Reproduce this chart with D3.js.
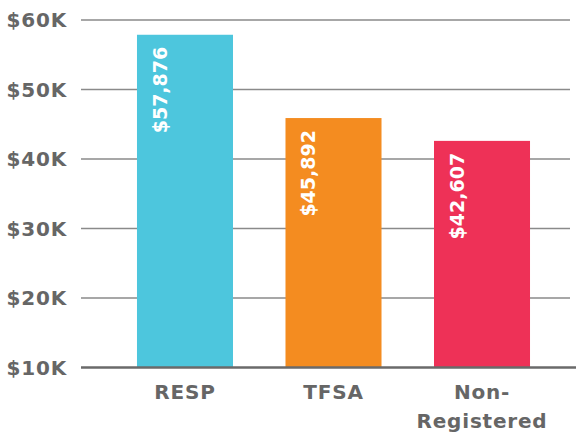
<!DOCTYPE html>
<html lang="en">
<head>
<meta charset="UTF-8">
<title>Savings by account type</title>
<script src="https://d3js.org/d3.v7.min.js"></script>
<style>
    body { margin: 0; background: #fff; }
    text { font-family: "DejaVu Sans", Lato, sans-serif; font-weight: 700; }
    .tick-label { fill: #666; font-size: 20px; letter-spacing: 0.8px; }
    .cat-label { fill: #666; font-size: 20px; letter-spacing: 0.8px; }
    .value-label { fill: #fff; font-size: 19px; }
</style>
</head>
<body>
<script>
    // data
    const categories = ["RESP", "TFSA", "Non-Registered"];
    const values = [57876, 45892, 42607];
    const valueLabels = ["$57,876", "$45,892", "$42,607"];
    const barColors = ["#4dc6dd", "#f48c20", "#ee3157"];
    const yTicks = [10000, 20000, 30000, 40000, 50000, 60000];
    const tickLabels = ["$10K", "$20K", "$30K", "$40K", "$50K", "$60K"];
    const catLines = [["RESP"], ["TFSA"], ["Non-", "Registered"]];

    const width = 576, height = 433;

    const svg = d3.select("body").append("svg")
        .attr("width", width)
        .attr("height", height);

    const y = d3.scaleLinear().domain([10000, 60000]).range([367.5, 20]);
    const x = d3.scaleBand().domain(categories).range([100, 567]).paddingInner(0.3535).paddingOuter(0.249);

    // gridlines
    svg.append("g")
        .selectAll("line")
        .data(yTicks.slice(1))
        .join("line")
        .attr("x1", 81).attr("x2", 570)
        .attr("y1", d => y(d)).attr("y2", d => y(d))
        .attr("stroke", "#8a8a8a")
        .attr("stroke-width", 1.5);

    // tick labels
    svg.append("g")
        .selectAll("text")
        .data(yTicks)
        .join("text")
        .attr("class", "tick-label")
        .attr("x", 67)
        .attr("y", d => y(d))
        .attr("dy", "0.36em")
        .attr("text-anchor", "end")
        .text((d, i) => tickLabels[i]);

    // bars
    svg.append("g")
        .selectAll("rect")
        .data(values)
        .join("rect")
        .attr("x", (d, i) => x(categories[i]))
        .attr("width", x.bandwidth())
        .attr("y", d => y(d))
        .attr("height", d => y(10000) - y(d))
        .attr("fill", (d, i) => barColors[i]);

    // value labels, rotated
    svg.append("g")
        .selectAll("text")
        .data(values)
        .join("text")
        .attr("class", "value-label")
        .attr("text-anchor", "end")
        .attr("transform", (d, i) => `translate(${x(categories[i]) + 30},${y(d) + 12}) rotate(-90)`)
        .text((d, i) => valueLabels[i]);

    // baseline
    svg.append("line")
        .attr("x1", 81).attr("x2", 576)
        .attr("y1", y(10000)).attr("y2", y(10000))
        .attr("stroke", "#6a6a6a")
        .attr("stroke-width", 2.5);

    // category labels
    const cats = svg.append("g")
        .selectAll("text")
        .data(categories)
        .join("text")
        .attr("class", "cat-label")
        .attr("text-anchor", "middle")
        .attr("x", d => x(d) + x.bandwidth() / 2)
        .attr("y", 399);

    cats.selectAll("tspan")
        .data((d, i) => catLines[i])
        .join("tspan")
        .attr("x", function () { return this.parentNode.getAttribute("x"); })
        .attr("dy", (d, i) => i === 0 ? 0 : 29)
        .text(d => d);
</script>
</body>
</html>
